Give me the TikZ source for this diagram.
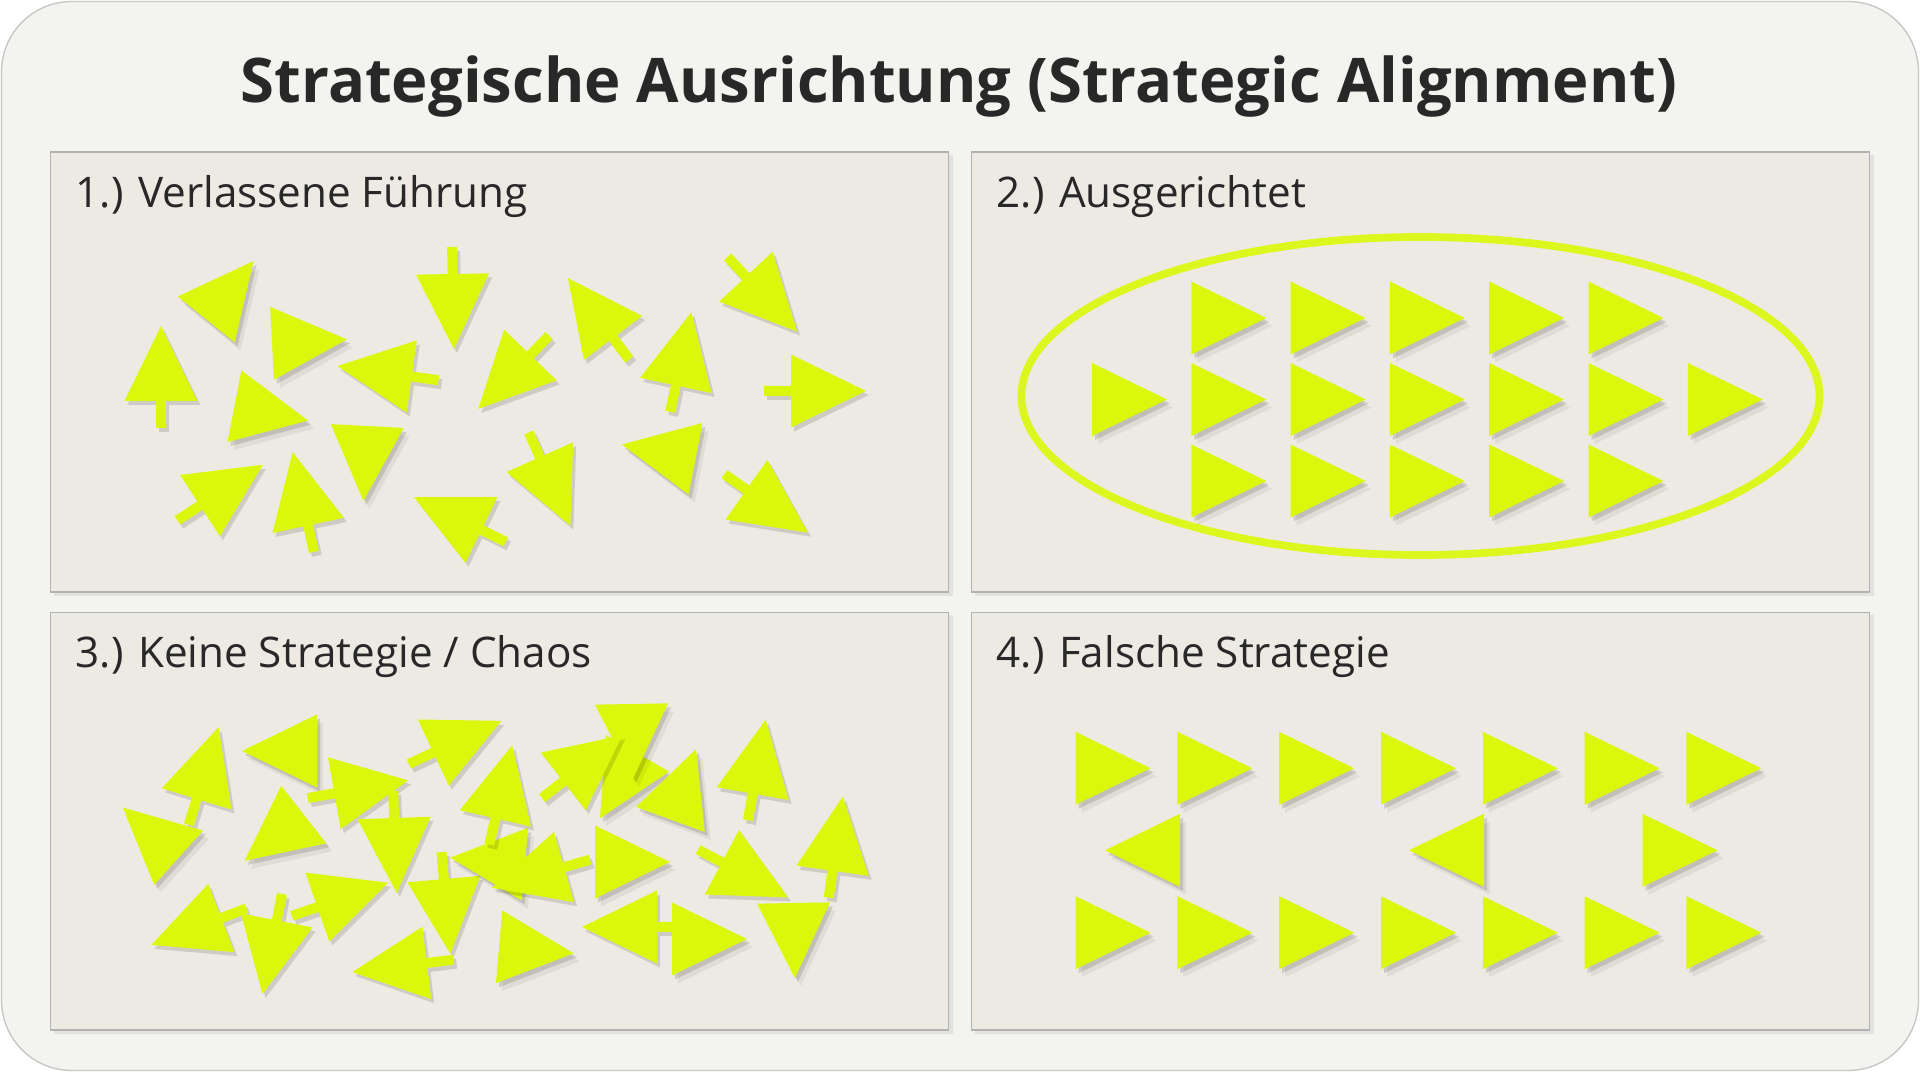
\documentclass[tikz,border=0pt]{standalone}
\usepackage{fontspec}
\setmainfont{Open Sans}
\definecolor{lime}{RGB}{219,248,12}
\definecolor{ringlime}{RGB}{220,247,30}
\definecolor{panelbg}{RGB}{237,234,227}
\definecolor{pagebg}{RGB}{243,243,240}
\definecolor{ink}{RGB}{40,40,40}
\tikzset{
  tri/.style={fill=lime},
  trishadow/.style={fill=black,opacity=.13},
  trishadowsoft/.style={fill=black,opacity=.06},
  panel/.style={fill=panelbg,draw=black!30,line width=.5pt},
  panelshadow/.style={fill=black,opacity=.07},
  label/.style={anchor=base west,inner sep=0pt,text=ink,font=\fontsize{12}{14}\selectfont},
  ring/.style={draw=ringlime,line width=2.2pt}
}
% triangle without stem: centre x, centre y, direction
\newcommand{\trihead}[3]{%
  \fill[trishadowsoft,shift={(#1+6,#2-8)},rotate=#3] (50,0) -- (-25,36.5) -- (-25,-36.5) -- cycle;
  \fill[trishadow,shift={(#1+3,#2-4)},rotate=#3] (50,0) -- (-25,36.5) -- (-25,-36.5) -- cycle;
  \fill[tri,shift={(#1,#2)},rotate=#3] (50,0) -- (-25,36.5) -- (-25,-36.5) -- cycle;}
% triangle with stem
\newcommand{\triarrow}[3]{%
  \fill[trishadow,shift={(#1+3,#2-4)},rotate=#3] (50,0) -- (-25,36.5) -- (-25,-36.5) -- cycle (-25,5) rectangle (-52,-5);
  \fill[tri,shift={(#1,#2)},rotate=#3] (50,0) -- (-25,36.5) -- (-25,-36.5) -- cycle (-25,5) rectangle (-52,-5);}

\begin{document}
\begin{tikzpicture}[x=0.01cm,y=0.01cm]
  \useasboundingbox (0,0) rectangle (1920,1072);
  \fill[white] (0,0) rectangle (1920,1072);
  \draw[fill=pagebg,draw=black!22,rounded corners=20] (1.5,1.5) rectangle (1918.5,1070.5);

  \node[anchor=base,inner sep=0pt,text=ink,font=\fontsize{17.5}{21}\selectfont\bfseries] (title) at (959,969) {Strategische Ausrichtung (Strategic Alignment)};

  % panels
  \fill[panelshadow] (53.5,476) rectangle (952.5,917);
  \fill[panelshadow] (974.5,476) rectangle (1873.5,917);
  \fill[panelshadow] (53.5,38) rectangle (952.5,456.5);
  \fill[panelshadow] (974.5,38) rectangle (1873.5,456.5);
  \draw[panel] (50.5,480) rectangle (948.5,920);
  \draw[panel] (971.5,480) rectangle (1869.5,920);
  \draw[panel] (50.5,42) rectangle (948.5,459.5);
  \draw[panel] (971.5,42) rectangle (1869.5,459.5);

  \node[label] (lab1) at (75,864) {1.) Verlassene Führung};
  \node[label] (lab2) at (996,864) {2.) Ausgerichtet};
  \node[label] (lab3) at (75,404) {3.) Keine Strategie / Chaos};
  \node[label] (lab4) at (996,404) {4.) Falsche Strategie};

  % 1.) scattered
  \trihead{222}{772}{51}
  \trihead{297}{730}{3}
  \triarrow{161}{696}{90}
  \trihead{259}{661}{-11}
  \triarrow{387}{699}{172}
  \triarrow{453}{773}{-89}
  \trihead{366}{621}{-93}
  \triarrow{221}{580}{33}
  \triarrow{303}{571}{102}
  \triarrow{459}{553}{154}
  \triarrow{513}{699}{-134}
  \triarrow{598}{754}{127}
  \triarrow{681}{711}{78}
  \triarrow{763}{777}{-47}
  \triarrow{816}{681}{0}
  \triarrow{550}{592}{-66}
  \trihead{671}{618}{169}
  \triarrow{767}{568}{-35}

  % 2.) aligned
  \draw[ring] (1420.5,676) ellipse [x radius=399, y radius=159];
  \foreach \i in {1,...,5} {
    \trihead{1117+99.3*\i}{754}{0}
    \trihead{1117+99.3*\i}{591}{0}
  }
  \foreach \i in {0,...,6} {
    \trihead{1117+99.3*\i}{672.5}{0}
  }

  % 3.) chaos
  \triarrow{204}{297}{73}
  \trihead{160}{231}{138}
  \trihead{292}{321}{180}
  \trihead{284}{242}{-142}
  \triarrow{359}{283}{10}
  \triarrow{395}{229}{-88}
  \triarrow{456}{330}{25}
  \triarrow{198}{145}{-159}
  \triarrow{272}{127}{-101}
  \triarrow{341}{173}{19}
  \triarrow{446}{168}{-85}
  \triarrow{402}{106}{-173}
  \trihead{500}{210}{175}
  \triarrow{501}{278}{77}
  \triarrow{540}{198}{-164}
  \trihead{620}{210}{0}
  \trihead{625}{297}{-120}
  \trihead{632}{343}{-89}
  \triarrow{583}{306}{38}
  \trihead{679}{276}{70}
  \triarrow{757}{303}{80}
  \triarrow{836}{226}{82}
  \triarrow{744}{198}{-28}
  \trihead{794}{144}{-89}
  \triarrow{632}{145}{180}
  \trihead{697}{133}{0}
  \trihead{524}{123}{-5}

  % 4.) wrong strategy
  \foreach \i in {0,...,6} {
    \trihead{1100.6+101.8*\i}{303.7}{0}
    \trihead{1100.6+101.8*\i}{139.3}{0}
  }
  \trihead{1155}{221.7}{180}
  \trihead{1459}{221.7}{180}
  \trihead{1667.5}{221.7}{0}
\end{tikzpicture}
\end{document}
